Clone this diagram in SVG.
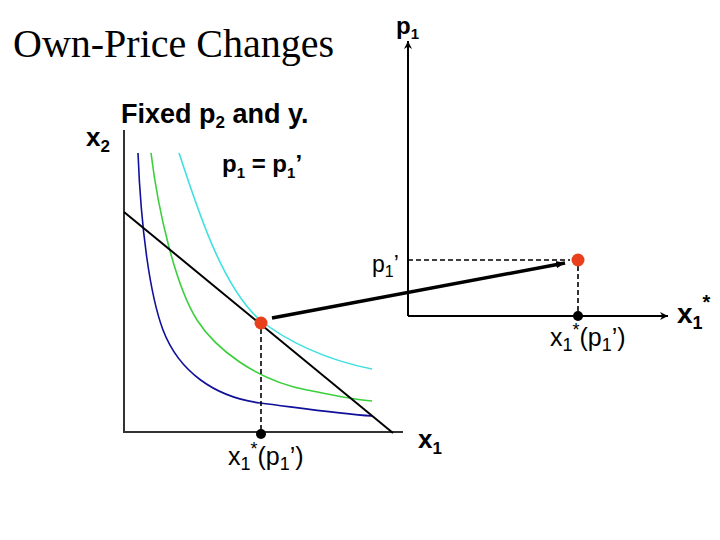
<svg xmlns="http://www.w3.org/2000/svg" width="720" height="540" viewBox="0 0 720 540">
<defs>
<style>
.t{font-family:"Liberation Sans",Arial,sans-serif;fill:#000}
.b{font-weight:bold}
.ser{font-family:"Liberation Serif","Times New Roman",serif;fill:#000}
.ax{stroke:#000;stroke-width:2;fill:none}
.axg{stroke:#333;stroke-width:2;fill:none}
.dash{stroke:#000;stroke-width:1.6;stroke-dasharray:5 3;fill:none}
.ic{fill:none;stroke-width:1.6}
</style>
<marker id="ah" viewBox="0 0 10 10" refX="10" refY="5" markerWidth="8" markerHeight="8" markerUnits="userSpaceOnUse" orient="auto">
<path d="M0,0 L10,5 L0,10 L3,5 Z" fill="#000"/>
</marker>
<marker id="ah2" viewBox="0 0 10 10" refX="10" refY="5" markerWidth="9" markerHeight="9" markerUnits="userSpaceOnUse" orient="auto">
<path d="M0,1 L10,5 L0,9 Z" fill="#000"/>
</marker>
</defs>
<rect width="720" height="540" fill="#fff"/>

<text class="ser" x="13" y="57" font-size="40">Own-Price Changes</text>
<text class="t b" x="121" y="123" font-size="27">Fixed p<tspan font-size="17" dy="5">2</tspan><tspan dy="-5"> and y.</tspan></text>

<g id="left-axes">
<path class="axg" d="M124,130 L124,432 L403,432"/>
<text class="t b" x="86" y="146" font-size="26">x<tspan font-size="17" dy="6">2</tspan></text>
<text class="t b" x="418" y="448" font-size="26">x<tspan font-size="17" dy="6">1</tspan></text>
</g>

<g id="indifference-curves">
<path class="ic" stroke="#10109a" d="M138,153 C141,230 150,295 163,330 C179,372 215,397 260,403 C300,408 340,414 372,416"/>
<path class="ic" stroke="#3ccf3c" d="M151,153 C158,210 175,285 197,320 C215,348 255,380 307,390 C333,395 350,399 372,401"/>
<path class="ic" stroke="#40e0e0" d="M179,153 C195,200 220,285 260,320 C285,340 325,360 372,369"/>
</g>

<g id="budget-line">
<path stroke="#000" stroke-width="2" fill="none" d="M124,212 L393,433"/>
</g>

<text class="t b" x="222" y="172" font-size="24">p<tspan font-size="15" dy="6">1</tspan><tspan dy="-6"> = p</tspan><tspan font-size="15" dy="6">1</tspan><tspan dy="-6">’</tspan></text>

<g id="left-optimum">
<path class="dash" d="M261,329 L261,432"/>
<circle cx="261" cy="323" r="6.5" fill="#e8401c"/>
<circle cx="261" cy="434" r="5" fill="#000"/>
<text class="t" x="228" y="465" font-size="25">x<tspan font-size="18" dy="5">1</tspan><tspan font-size="18" dy="-15">*</tspan><tspan dy="10">(p</tspan><tspan font-size="18" dy="5">1</tspan><tspan dy="-5">’)</tspan></text>
</g>

<g id="right-axes">
<path class="ax" d="M408,316 L408,41" marker-end="url(#ah)"/>
<path class="ax" d="M408,316 L668,316" marker-end="url(#ah)"/>
<text class="t b" x="396" y="34" font-size="24">p<tspan font-size="15" dy="5">1</tspan></text>
<text class="t b" x="677" y="323" font-size="28">x<tspan font-size="18" dy="6">1</tspan><tspan font-size="20" dy="-20">*</tspan></text>
<text class="t" x="372" y="272" font-size="23">p<tspan font-size="16" dy="5">1</tspan><tspan dy="-5">’</tspan></text>
</g>

<g id="right-optimum">
<path class="dash" d="M408,260 L570,260"/>
<path class="dash" d="M578,266 L578,316"/>
<circle cx="578" cy="260" r="6.5" fill="#e8401c"/>
<circle cx="578" cy="316" r="5" fill="#000"/>
<text class="t" x="550" y="346" font-size="25">x<tspan font-size="18" dy="5">1</tspan><tspan font-size="18" dy="-15">*</tspan><tspan dy="10">(p</tspan><tspan font-size="18" dy="5">1</tspan><tspan dy="-5">’)</tspan></text>
</g>

<g id="connectors">
<path stroke="#000" stroke-width="3.5" fill="none" d="M272,318 L565,263" marker-end="url(#ah2)"/>
</g>
</svg>
